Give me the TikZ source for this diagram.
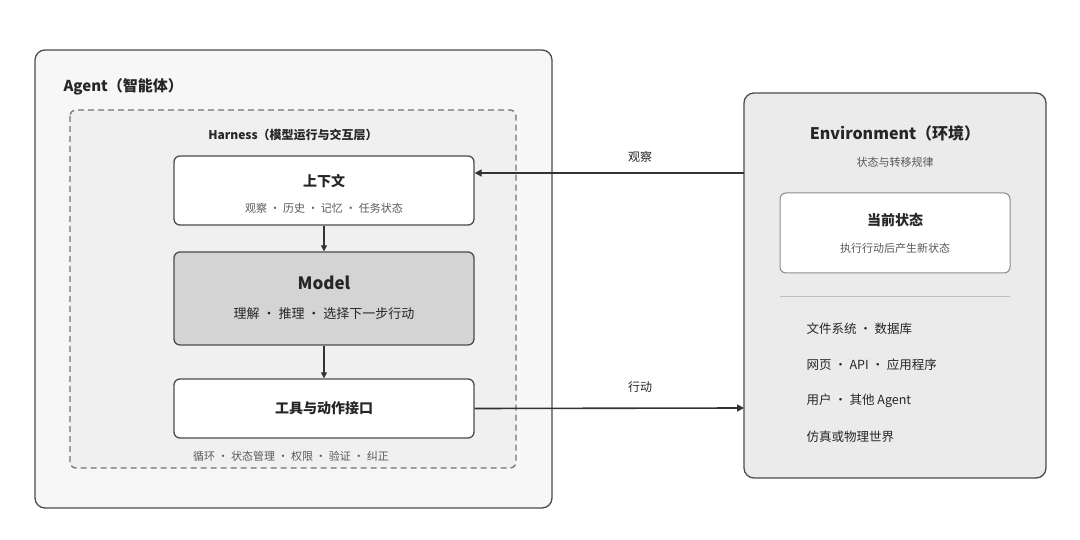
\documentclass[tikz,border=0pt]{standalone}
\usepackage{fontspec}
\setmainfont{Noto Sans CJK SC}
\usetikzlibrary{arrows.meta}
\begin{document}
\begin{tikzpicture}[x=1pt,y=-1pt,
 box/.style={draw=black!70,line width=1.3pt,rounded corners=6pt},
 arr/.style={-{Triangle[length=7pt,width=7pt]},line width=1.6pt,draw=black!80},
 t/.style={text=black!85},
 s/.style={text=black!65,font=\fontsize{11}{13}\selectfont}]
\useasboundingbox (0,0) rectangle (1080,540);
\fill[white] (0,0) rectangle (1080,540);
\draw[box,fill=black!3,rounded corners=10pt] (35,50) rectangle (552,508);
\node[t,anchor=west,font=\bfseries\fontsize{15}{18}\selectfont] (at) at (60,87) {Agent（智能体）};
\draw[draw=black!55,line width=1.3pt,dashed,dash pattern=on 6pt off 4pt,rounded corners=6pt,fill=black!6] (70,110) rectangle (516,468);
\node[t,font=\bfseries\fontsize{12}{14}\selectfont] (ht) at (293,135) {Harness（模型运行与交互层）};
\node[box,fill=white,minimum width=300pt,minimum height=69pt] (ctx) at (324,190.5) {};
\node[t,font=\bfseries\fontsize{14}{16}\selectfont] at (324,181) {上下文};
\node[s] at (324,208) {观察 · 历史 · 记忆 · 任务状态};
\node[box,fill=black!17,minimum width=300pt,minimum height=93pt] (mdl) at (324,298.5) {};
\node[t,font=\bfseries\fontsize{17}{20}\selectfont] at (324,283) {Model};
\node[t,font=\fontsize{13}{15}\selectfont] at (324,314) {理解 · 推理 · 选择下一步行动};
\node[box,fill=white,minimum width=300pt,minimum height=59pt] (tool) at (324,408.5) {};
\node[t,font=\bfseries\fontsize{14}{16}\selectfont] at (324,408) {工具与动作接口};
\node[s] (ft) at (291,456) {循环 · 状态管理 · 权限 · 验证 · 纠正};
\draw[arr,line width=1.3pt,-{Triangle[length=6pt,width=6pt]}] (ctx) -- (mdl);
\draw[arr,line width=1.3pt,-{Triangle[length=6pt,width=6pt]}] (mdl) -- (tool);
\draw[box,fill=black!8,rounded corners=10pt] (744,93) rectangle (1046,478);
\coordinate (eo) at (744,173);
\coordinate (ei) at (744,408);
\node[t,font=\bfseries\fontsize{16}{19}\selectfont] (et) at (895,133) {Environment（环境）};
\node[s] (es) at (895,162) {状态与转移规律};
\node[draw=black!45,line width=1pt,rounded corners=6pt,fill=white,minimum width=230pt,minimum height=80pt] (cs) at (895,233) {};
\node[t,font=\bfseries\fontsize{14}{16}\selectfont] at (895,220) {当前状态};
\node[s] at (895,248) {执行行动后产生新状态};
\draw[black!25,line width=0.8pt] (780,296) -- (1010,296);
\foreach \y/\txt in {329/文件系统 · 数据库,365/网页 · API · 应用程序,401/用户 · 其他 Agent,437/仿真或物理世界}
 \node[t,anchor=west,font=\fontsize{12.5}{15}\selectfont] at (803,\y) {\txt};
\draw[arr] (eo) -- (ctx.east |- eo);
\node[t,font=\fontsize{12}{14}\selectfont] at (640,157) {观察};
\draw[arr] (tool.east) -- (ei);
\node[t,font=\fontsize{12}{14}\selectfont] at (640,387) {行动};
\end{tikzpicture}
\end{document}
